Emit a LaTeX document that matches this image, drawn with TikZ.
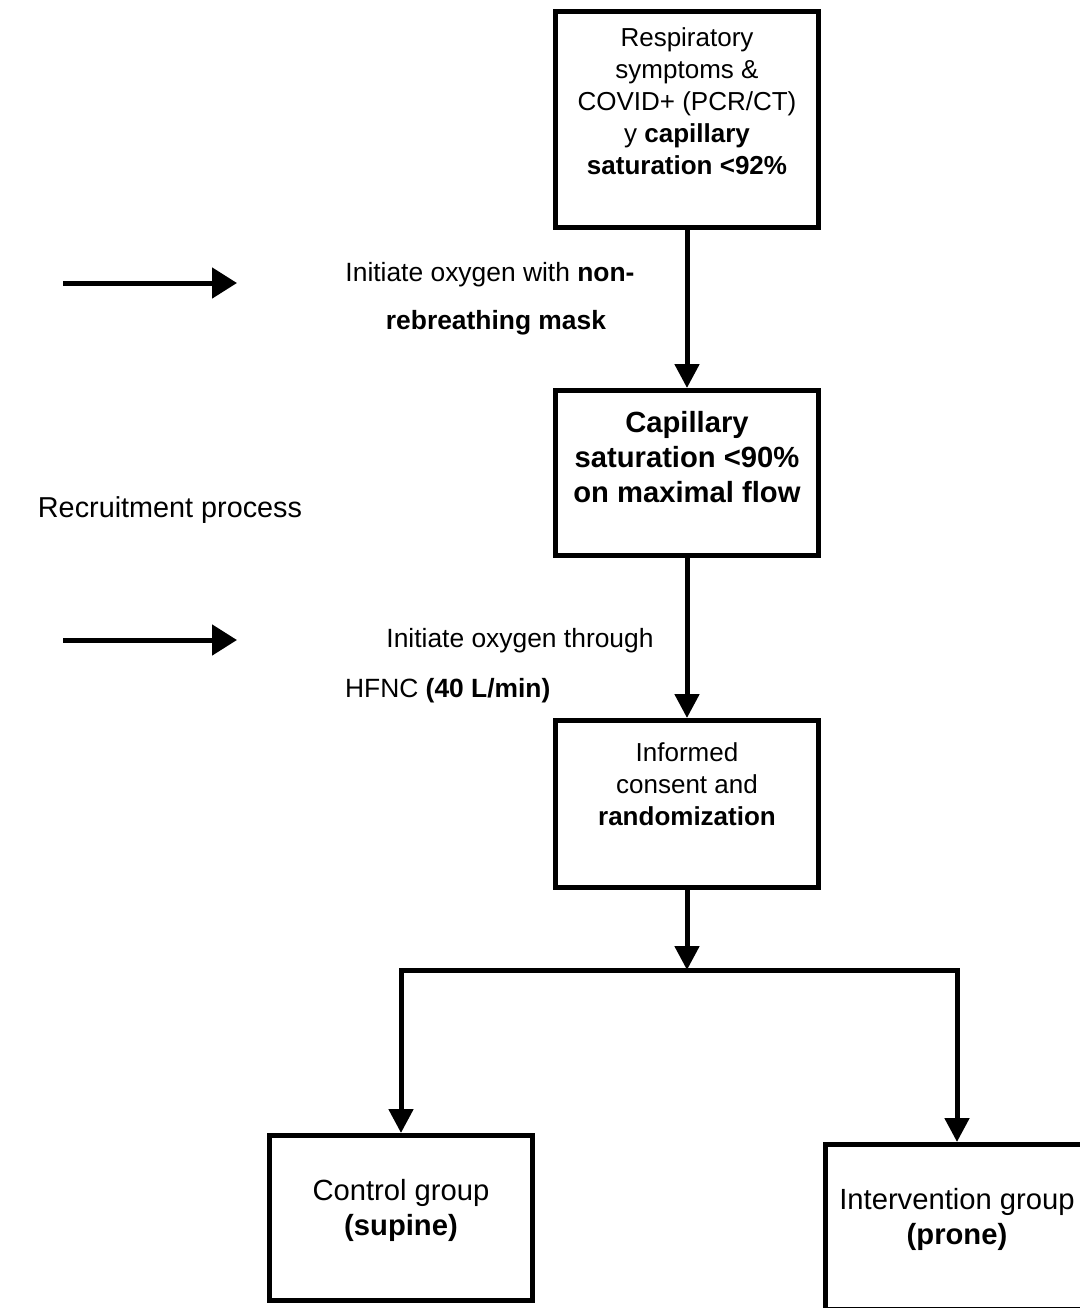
\documentclass[tikz,border=0pt]{standalone}
\usepackage{fontspec}
\setmainfont{Liberation Sans}
\usetikzlibrary{arrows.meta}

\tikzset{
  stagebox/.style={draw, line width=2.5pt, minimum width=131.5pt, inner sep=0pt},
  boxtext/.style={align=center, font=\fontsize{13}{16}\selectfont},
  bigtext/.style={align=center, font=\fontsize{14.6}{17.5}\selectfont},
  sidetext/.style={font=\fontsize{13.2}{16}\selectfont},
  flow/.style={line width=2.5pt, -{Triangle[length=12pt,width=12pt]}},
  sidearrow/.style={line width=2.5pt, -{Triangle[length=12.5pt,width=15pt]}}
}

\begin{document}
\begin{tikzpicture}[x=0.5pt,y=-0.5pt]

\useasboundingbox (0,0) rectangle (1080,1308);

\node[stagebox, minimum height=108pt] (symptoms) at (687,119.5) {};
\node[stagebox, minimum height=82.5pt] (saturation) at (687,473) {};
\node[stagebox, minimum height=83.5pt] (consent) at (687,804) {};
\node[stagebox, minimum height=82.5pt] (control) at (401,1218) {};
\node[stagebox, minimum height=82.5pt] (intervention) at (957,1227) {};

\node[boxtext] (symptomstext) at (687,101)
  {Respiratory\\symptoms \&\\COVID+ (PCR/CT)\\y \textbf{capillary}\\\textbf{saturation <92\%}};
\node[bigtext] (saturationtext) at (687,457)
  {\textbf{Capillary}\\\textbf{saturation <90\%}\\\textbf{on maximal flow}};
\node[boxtext] (consenttext) at (687,784)
  {Informed\\consent and\\\textbf{randomization}};
\node[bigtext] (controltext) at (401,1210)
  {Control group\\\textbf{(supine)}};
\node[bigtext] (interventiontext) at (957,1219)
  {Intervention group\\\textbf{(prone)}};

\node[sidetext] (oxygen) at (490,275) {Initiate oxygen with \textbf{non-}};
\node[sidetext] (mask) at (496,323) {\textbf{rebreathing mask}};
\node[sidetext] (through) at (520,641) {Initiate oxygen through};
\node[sidetext, anchor=west] (hfnc) at (338,691) {HFNC \textbf{(40 L/min)}};
\node[font=\fontsize{14.4}{17}\selectfont] (recruitment) at (170,510) {Recruitment process};

\coordinate (split) at (687,970);
\coordinate (first) at (63,283);
\coordinate (firstend) at (237,283);
\coordinate (second) at (63,640);
\coordinate (secondend) at (237,640);

\draw[flow] (symptoms) -- (saturation);
\draw[flow] (saturation) -- (consent);
\draw[flow] (consent) -- (split);
\draw[flow] (split) -| (control);
\draw[flow] (split) -| (intervention);

\draw[sidearrow] (first) -- (firstend);
\draw[sidearrow] (second) -- (secondend);

\end{tikzpicture}
\end{document}
